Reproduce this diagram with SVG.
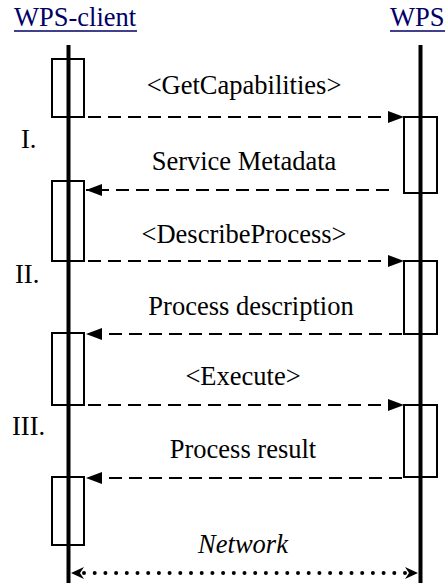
<svg xmlns="http://www.w3.org/2000/svg" width="446" height="583" viewBox="0 0 446 583">
  <defs>
    <marker id="ah" viewBox="0 0 16 12" refX="16" refY="6" markerWidth="16" markerHeight="12" markerUnits="userSpaceOnUse" orient="auto">
      <path d="M0,0 L16,6 L0,12 Z" fill="#000"/>
    </marker>
    <style>
      .t { font-family: "Liberation Serif", "Times New Roman", serif; font-size: 26.5px; fill: #000; }
      .h { font-family: "Liberation Serif", "Times New Roman", serif; font-size: 26.5px; fill: #000066; }
      .life { stroke: #000; stroke-width: 4; }
      .box { fill: none; stroke: #000; stroke-width: 2; }
      .msg { fill: none; stroke: #000; stroke-width: 2; stroke-dasharray: 13 7; marker-end: url(#ah); }
    </style>
  </defs>
  <rect width="446" height="583" fill="#fff"/>

  <g id="client">
    <text class="h" x="14" y="26">WPS-client</text>
    <line x1="14" y1="31" x2="137" y2="31" stroke="#000066" stroke-width="1.5"/>
    <rect class="box" x="52" y="59" width="32" height="58"/>
    <rect class="box" x="52" y="181" width="32" height="80"/>
    <rect class="box" x="52" y="333" width="32" height="72"/>
    <rect class="box" x="52" y="477" width="32" height="68"/>
    <line class="life" x1="68.5" y1="45" x2="68.5" y2="583"/>
  </g>

  <g id="wps">
    <text class="h" x="390" y="26">WPS</text>
    <line x1="390" y1="31" x2="445" y2="31" stroke="#000066" stroke-width="1.5"/>
    <rect class="box" x="404" y="117" width="33" height="76"/>
    <rect class="box" x="404" y="261" width="33" height="73"/>
    <rect class="box" x="404" y="405" width="33" height="72"/>
    <line class="life" x1="420.5" y1="45" x2="420.5" y2="583"/>
  </g>

  <g id="phases">
    <text class="t" x="21" y="148">I.</text>
    <text class="t" x="15" y="283">II.</text>
    <text class="t" x="12" y="435">III.</text>
  </g>

  <g id="connectors">
    <line class="msg" x1="88" y1="117" x2="404" y2="117"/>
    <line class="msg" x1="389" y1="190" x2="86" y2="190"/>
    <line class="msg" x1="88" y1="261" x2="404" y2="261"/>
    <line class="msg" x1="402" y1="334" x2="86" y2="334"/>
    <line class="msg" x1="88" y1="405" x2="404" y2="405"/>
    <line class="msg" x1="402" y1="478" x2="86" y2="478"/>
    <line x1="84" y1="573" x2="406" y2="573" stroke="#000" stroke-width="4" stroke-linecap="round" stroke-dasharray="0 10.7"/>
    <path d="M71,573 L84,567 L80,573 L84,579 Z" fill="#000"/>
    <path d="M418,573 L405,567 L409,573 L405,579 Z" fill="#000"/>
  </g>

  <g id="labels" text-anchor="middle">
    <text class="t" x="244" y="94">&lt;GetCapabilities&gt;</text>
    <text class="t" x="244" y="170">Service Metadata</text>
    <text class="t" x="244" y="243">&lt;DescribeProcess&gt;</text>
    <text class="t" x="251" y="315">Process description</text>
    <text class="t" x="243" y="385">&lt;Execute&gt;</text>
    <text class="t" x="243" y="458">Process result</text>
    <text class="t" x="243" y="553" font-style="italic">Network</text>
  </g>
</svg>
